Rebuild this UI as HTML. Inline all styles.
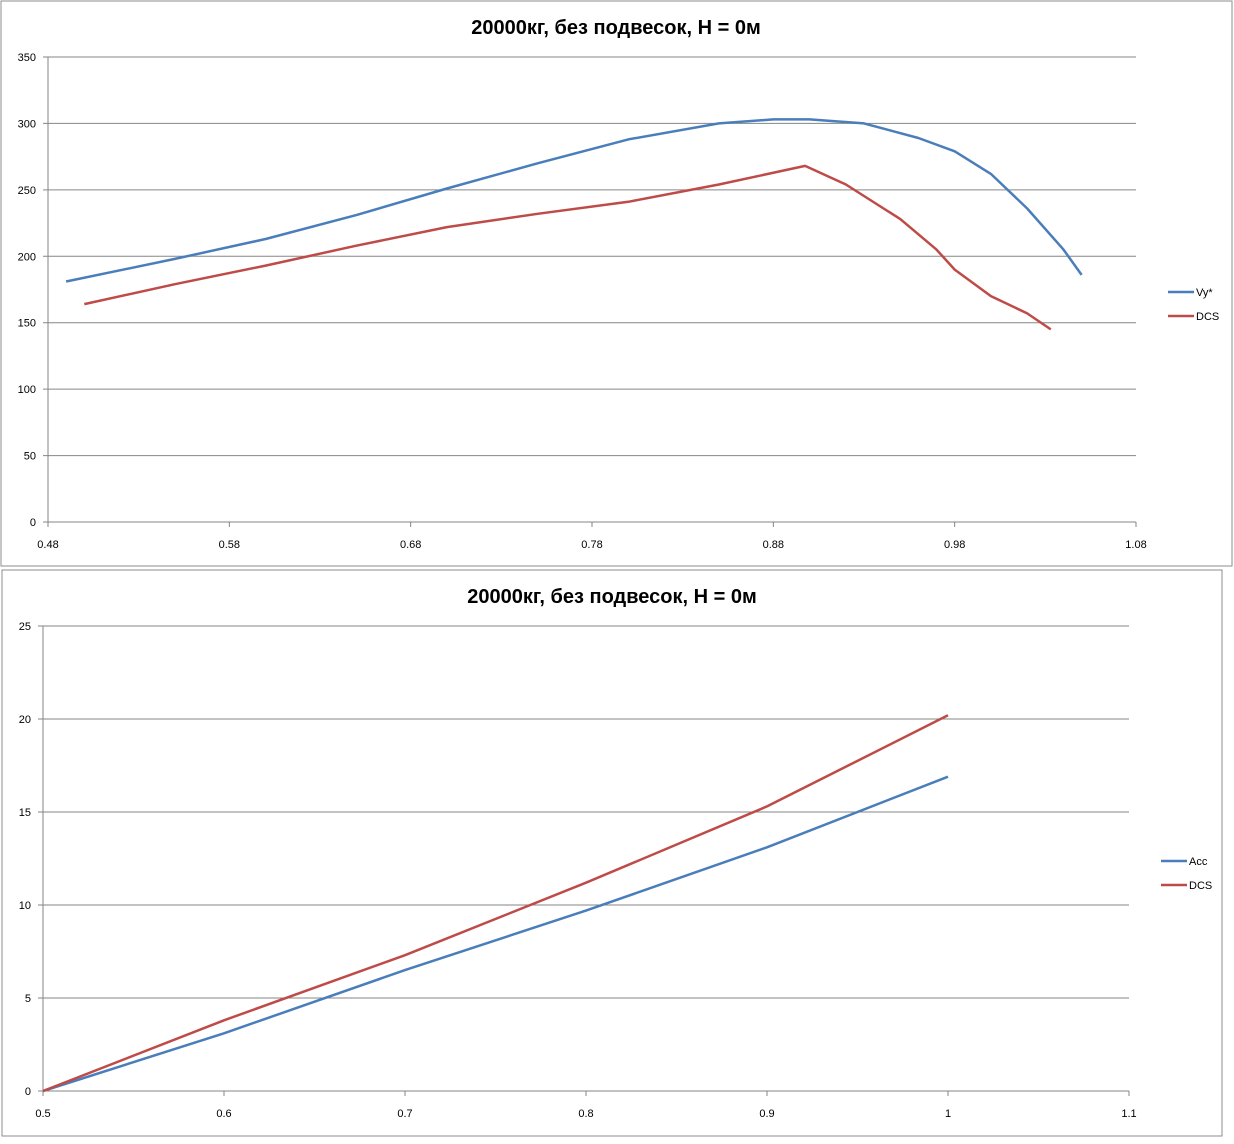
<!DOCTYPE html>
<html><head><meta charset="utf-8"><style>
body{margin:0;background:#fff;width:1234px;height:1139px;overflow:hidden}
svg text{font-family:"Liberation Sans","DejaVu Sans",sans-serif}
</style></head><body>
<svg id="s" width="1234" height="1139">
<rect x="1" y="1" width="1231" height="565" fill="#fff" stroke="#8c8c8c"/>
<rect x="2" y="570" width="1220" height="566" fill="#fff" stroke="#8c8c8c"/>
<text x="616" y="34" text-anchor="middle" font-size="20" font-weight="bold">20000кг, без подвесок, H = 0м</text>
<text x="612" y="603" text-anchor="middle" font-size="20" font-weight="bold">20000кг, без подвесок, H = 0м</text>
<g id="c1"></g><g id="c2"></g>
</svg>
<script>
// chart 1 data
const c1X=[0.49,0.55,0.6,0.65,0.7,0.75,0.8,0.85,0.88,0.9,0.93,0.96,0.98,1.0,1.02,1.04,1.05];
const c1Vy=[181,198,213,231,251,270,288,300,303,303,300,289,279,262,236,205,186];
const c1DX=[0.5,0.55,0.6,0.65,0.7,0.75,0.8,0.85,0.8975,0.92,0.95,0.97,0.98,1.0,1.02,1.033];
const c1D=[164,179,193,208,222,232,241,254,268,254,228,205,190,170,157,145];
const c1XT=[0.48,0.58,0.68,0.78,0.88,0.98,1.08];
const c1YT=[0,50,100,150,200,250,300,350];
// chart 2 data
const c2X=[0.5,0.6,0.7,0.8,0.9,1.0];
const c2Acc=[0,3.1,6.5,9.7,13.1,16.9];
const c2D=[0,3.8,7.3,11.2,15.3,20.2];
const c2XT=[0.5,0.6,0.7,0.8,0.9,1,1.1];
const c2YT=[0,5,10,15,20,25];
const NS="http://www.w3.org/2000/svg";
function mk(p,t,a){const e=document.createElementNS(NS,t);for(const k in a)e.setAttribute(k,a[k]);p.appendChild(e);return e;}
function chart(g,L,R,T,B,x0,x1,y0,y1,xt,yt,series,legY,prefix){
 const sx=v=>L+(v-x0)/(x1-x0)*(R-L), sy=v=>B-(v-y0)/(y1-y0)*(B-T);
 yt.forEach(v=>{
  const l=mk(g,'line',{x1:L-5,x2:R,y1:sy(v),y2:sy(v),stroke:'#868686','stroke-width':1});
  
  
  const t=mk(g,'text',{x:L-12,y:sy(v)+4,'text-anchor':'end','font-size':11});
  t.textContent=v;
  
  
 });
 const ax=mk(g,'line',{x1:L,x2:L,y1:T,y2:B,stroke:'#868686'});
 
 
 xt.forEach(v=>{
  const l=mk(g,'line',{x1:sx(v),x2:sx(v),y1:B,y2:B+5,stroke:'#868686'});
  
  
  const t=mk(g,'text',{x:sx(v),y:B+26,'text-anchor':'middle','font-size':11});
  t.textContent=v;
  
  
 });
 series.forEach((s,i)=>{
  const d=s.x.map((v,j)=>(j?'L':'M')+sx(v).toFixed(1)+','+sy(s.y[j]).toFixed(1)).join('');
  const p=mk(g,'path',{d:d,fill:'none',stroke:s.c,'stroke-width':2.5,'stroke-linejoin':'round'});
  
  
  const ly=legY+i*24;
  const ll=mk(g,'line',{x1:R+32,x2:R+58,y1:ly,y2:ly,stroke:s.c,'stroke-width':2.5});
  
  
  const lt=mk(g,'text',{x:R+60,y:ly+4,'font-size':11});
  lt.textContent=s.n;
  
  
 });
}
chart(document.getElementById('c1'),48,1136,57,522,0.48,1.08,0,350,c1XT,c1YT,
 [{x:c1X,y:c1Vy,c:'#4a7ebb',n:'Vy*'},{x:c1DX,y:c1D,c:'#be4b48',n:'DCS'}],292,'chart1-');
chart(document.getElementById('c2'),43,1129,626,1091,0.5,1.1,0,25,c2XT,c2YT,
 [{x:c2X,y:c2Acc,c:'#4a7ebb',n:'Acc'},{x:c2X,y:c2D,c:'#be4b48',n:'DCS'}],861,'chart2-');
</script>
</body></html>
